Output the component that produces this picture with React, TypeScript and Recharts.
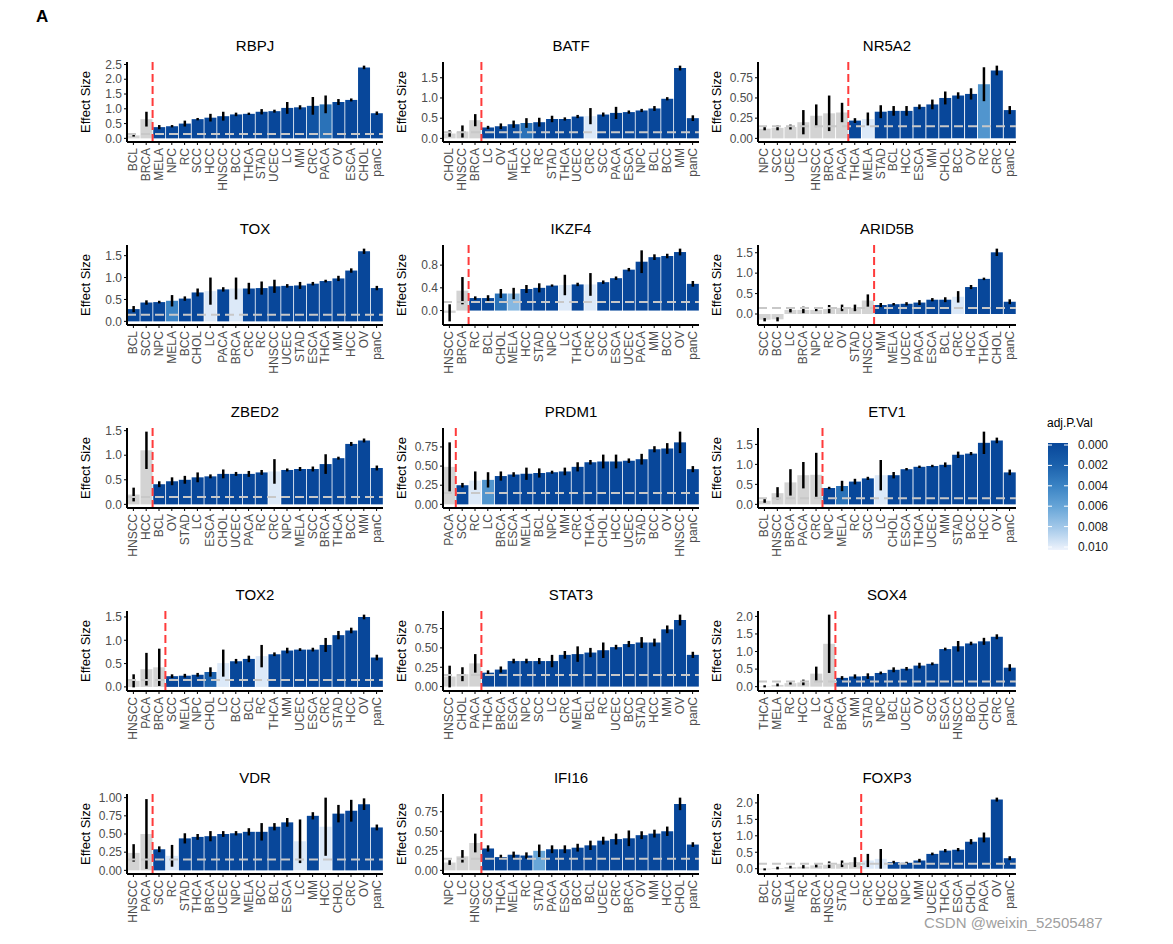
import React from 'react';
import { BarChart, Bar, XAxis, YAxis, Cell, ErrorBar, ReferenceLine } from 'recharts';

// ---------------- data ----------------
const RBPJ_CATS = ['BCL','BRCA','MELA','NPC','RC','SCC','HCC','HNSCC','BCC','THCA','STAD','UCEC','LC','MM','CRC','PACA','OV','ESCA','CHOL','panC'];
const RBPJ_VALS = [0.1,0.65,0.38,0.41,0.5,0.65,0.7,0.75,0.81,0.83,0.9,0.92,1.03,1.05,1.1,1.15,1.23,1.3,2.4,0.85];
const RBPJ_ERRS = [0.04,0.25,0.07,0.04,0.1,0.04,0.13,0.15,0.06,0.04,0.09,0.05,0.2,0.07,0.3,0.3,0.1,0.05,0.06,0.06];
const RBPJ_PADJ = [null,null,0,0,0,0,0,0,0,0,0,0,0,0,0.001,0.003,0,0,0,0];

const BATF_CATS = ['CHOL','HNSCC','BRCA','LC','OV','MELA','HCC','RC','STAD','THCA','UCEC','CRC','SCC','PACA','ESCA','NPC','BCL','BCC','MM','panC'];
const BATF_VALS = [0.12,0.17,0.45,0.27,0.3,0.35,0.38,0.4,0.48,0.48,0.54,0.55,0.59,0.63,0.65,0.69,0.74,0.98,1.74,0.5];
const BATF_ERRS = [0.08,0.15,0.15,0.04,0.07,0.09,0.12,0.11,0.08,0.04,0.04,0.2,0.05,0.15,0.04,0.04,0.06,0.04,0.06,0.07];
const BATF_PADJ = [null,null,null,0,0,0.0005,0.003,0,0,0,0,0.0095,0,0,0,0,0,0,0,0];

const NR5A2_CATS = ['NPC','SCC','UCEC','LC','HNSCC','BRCA','PACA','THCA','MELA','STAD','BCL','HCC','ESCA','MM','CHOL','BCC','OV','RC','CRC','panC'];
const NR5A2_VALS = [0.12,0.13,0.14,0.2,0.28,0.31,0.32,0.22,0.24,0.33,0.34,0.34,0.39,0.42,0.5,0.53,0.55,0.67,0.84,0.35];
const NR5A2_ERRS = [0.02,0.03,0.03,0.15,0.14,0.22,0.12,0.03,0.08,0.08,0.06,0.06,0.03,0.06,0.08,0.04,0.07,0.21,0.06,0.05];
const NR5A2_PADJ = [null,null,null,null,null,null,null,0,0.0095,0,0,0,0,0,0,0,0,0.005,0,0];

const TOX_CATS = ['BCL','SCC','NPC','MELA','BCC','CHOL','LC','PACA','BRCA','CRC','RC','HNSCC','UCEC','STAD','ESCA','THCA','MM','HCC','OV','panC'];
const TOX_VALS = [0.28,0.43,0.44,0.47,0.52,0.66,0.69,0.73,0.75,0.75,0.76,0.8,0.81,0.82,0.86,0.92,0.98,1.16,1.6,0.76];
const TOX_ERRS = [0.07,0.05,0.03,0.13,0.05,0.09,0.31,0.05,0.25,0.13,0.15,0.15,0.04,0.08,0.04,0.03,0.06,0.05,0.06,0.05];
const TOX_PADJ = [0,0,0,0.004,0,0,0.0095,0,0.0095,0,0,0,0,0,0,0,0,0,0,0];

const IKZF4_CATS = ['HNSCC','BRCA','RC','BCL','CHOL','MELA','HCC','STAD','NPC','LC','THCA','CRC','SCC','ESCA','UCEC','PACA','MM','BCC','OV','panC'];
const IKZF4_VALS = [-0.04,0.35,0.22,0.22,0.3,0.3,0.38,0.4,0.44,0.45,0.46,0.46,0.5,0.57,0.72,0.86,0.94,0.96,1.03,0.47];
const IKZF4_ERRS = [0.15,0.24,0.03,0.05,0.08,0.1,0.07,0.08,0.02,0.18,0.03,0.2,0.03,0.03,0.03,0.2,0.05,0.04,0.06,0.05];
const IKZF4_PADJ = [null,null,0,0,0.003,0.007,0,0,0,0.0095,0,0.0095,0,0,0,0,0,0,0,0];

const ARID5B_CATS = ['SCC','BCC','LC','BRCA','NPC','RC','OV','STAD','HNSCC','MM','MELA','UCEC','PACA','ESCA','BCL','CRC','HCC','THCA','CHOL','panC'];
const ARID5B_VALS = [-0.14,-0.13,0.1,0.1,0.1,0.12,0.15,0.15,0.33,0.22,0.24,0.25,0.28,0.35,0.35,0.42,0.66,0.86,1.51,0.3];
const ARID5B_ERRS = [0.04,0.05,0.06,0.08,0.03,0.1,0.08,0.08,0.15,0.05,0.03,0.04,0.06,0.04,0.06,0.14,0.05,0.03,0.09,0.06];
const ARID5B_PADJ = [null,null,null,null,null,null,null,null,null,0,0,0,0,0,0,0.0095,0,0,0,0];

const ZBED2_CATS = ['HNSCC','HCC','BCL','OV','STAD','LC','ESCA','CHOL','UCEC','PACA','RC','CRC','NPC','MELA','SCC','BRCA','THCA','BCC','MM','panC'];
const ZBED2_VALS = [0.2,1.1,0.41,0.47,0.5,0.55,0.57,0.62,0.62,0.62,0.65,0.67,0.7,0.72,0.72,0.82,0.94,1.23,1.3,0.74];
const ZBED2_ERRS = [0.14,0.38,0.06,0.08,0.08,0.1,0.04,0.09,0.04,0.06,0.05,0.25,0.03,0.04,0.05,0.2,0.03,0.04,0.04,0.05];
const ZBED2_PADJ = [null,null,0,0,0,0,0,0,0,0,0,0.0095,0,0,0,0,0,0,0,0];

const PRDM1_CATS = ['PACA','SCC','RC','LC','BRCA','ESCA','MELA','BCL','NPC','MM','CRC','THCA','CHOL','HCC','UCEC','STAD','BCC','OV','HNSCC','panC'];
const PRDM1_VALS = [0.49,0.25,0.31,0.32,0.37,0.39,0.4,0.41,0.42,0.43,0.49,0.55,0.56,0.56,0.57,0.59,0.72,0.73,0.81,0.46];
const PRDM1_ERRS = [0.32,0.03,0.12,0.1,0.06,0.03,0.08,0.06,0.02,0.05,0.06,0.03,0.09,0.09,0.03,0.07,0.04,0.07,0.14,0.04];
const PRDM1_PADJ = [null,0,0.0095,0.005,0,0,0,0,0,0,0,0,0,0,0,0,0,0,0,0];

const ETV1_CATS = ['BCL','HNSCC','BRCA','PACA','CRC','NPC','MELA','RC','SCC','LC','CHOL','ESCA','THCA','UCEC','MM','STAD','BCC','HCC','OV','panC'];
const ETV1_VALS = [0.09,0.28,0.55,0.73,0.74,0.41,0.46,0.57,0.65,0.73,0.73,0.88,0.94,0.96,0.99,1.24,1.27,1.54,1.6,0.8];
const ETV1_ERRS = [0.05,0.15,0.33,0.33,0.55,0.03,0.13,0.07,0.04,0.38,0.08,0.03,0.03,0.03,0.06,0.08,0.04,0.28,0.07,0.07];
const ETV1_PADJ = [null,null,null,null,null,0,0.003,0,0,0.0095,0,0,0,0,0,0,0,0,0,0];

const TOX2_CATS = ['HNSCC','PACA','BRCA','SCC','MELA','NPC','CHOL','LC','BCC','BCL','RC','THCA','MM','UCEC','ESCA','CRC','STAD','HCC','OV','panC'];
const TOX2_VALS = [0.13,0.38,0.42,0.23,0.24,0.26,0.32,0.51,0.55,0.6,0.66,0.7,0.78,0.8,0.8,0.9,1.11,1.21,1.5,0.63];
const TOX2_ERRS = [0.14,0.35,0.4,0.04,0.04,0.04,0.1,0.29,0.05,0.07,0.24,0.04,0.06,0.03,0.04,0.15,0.09,0.06,0.05,0.06];
const TOX2_PADJ = [null,null,null,0,0,0,0.002,0.0095,0,0,0.0095,0,0,0,0,0,0,0,0,0];

const STAT3_CATS = ['HNSCC','CHOL','PACA','THCA','BRCA','ESCA','NPC','SCC','LC','CRC','MELA','BCL','RC','UCEC','BCC','STAD','HCC','MM','OV','panC'];
const STAT3_VALS = [0.13,0.16,0.3,0.18,0.22,0.33,0.33,0.33,0.33,0.41,0.42,0.44,0.47,0.51,0.55,0.57,0.57,0.74,0.86,0.41];
const STAT3_ERRS = [0.14,0.09,0.12,0.03,0.04,0.03,0.03,0.04,0.08,0.05,0.1,0.06,0.1,0.03,0.04,0.07,0.05,0.05,0.07,0.04];
const STAT3_PADJ = [null,null,null,0,0,0,0,0,0,0,0,0,0,0,0,0,0,0,0,0];

const SOX4_CATS = ['THCA','MELA','RC','HCC','LC','PACA','BRCA','MM','STAD','NPC','BCL','UCEC','OV','SCC','ESCA','HNSCC','BCC','CHOL','CRC','panC'];
const SOX4_VALS = [0.01,0.05,0.1,0.12,0.37,1.22,0.25,0.29,0.3,0.39,0.48,0.51,0.6,0.65,1.07,1.15,1.23,1.29,1.42,0.54];
const SOX4_ERRS = [0.03,0.04,0.04,0.08,0.2,0.83,0.05,0.06,0.08,0.04,0.07,0.05,0.08,0.04,0.04,0.15,0.05,0.1,0.07,0.1];
const SOX4_PADJ = [null,null,null,null,null,null,0,0,0,0,0,0,0,0,0,0,0,0,0,0];

const VDR_CATS = ['HNSCC','PACA','SCC','RC','STAD','THCA','BRCA','UCEC','NPC','MELA','BCC','BCL','ESCA','LC','MM','HCC','CHOL','CRC','OV','panC'];
const VDR_VALS = [0.24,0.5,0.29,0.2,0.44,0.46,0.47,0.5,0.51,0.53,0.53,0.6,0.66,0.4,0.75,0.6,0.78,0.82,0.91,0.59];
const VDR_ERRS = [0.12,0.48,0.04,0.15,0.07,0.04,0.07,0.04,0.03,0.05,0.12,0.05,0.06,0.3,0.05,0.4,0.12,0.15,0.08,0.04];
const VDR_PADJ = [null,null,0,0.0095,0,0,0,0,0,0,0,0,0,0.0095,0,0.0095,0,0,0,0];

const IFI16_CATS = ['NPC','LC','HNSCC','SCC','THCA','MELA','RC','STAD','PACA','ESCA','BCC','BCL','UCEC','CRC','BRCA','OV','MM','HCC','CHOL','panC'];
const IFI16_VALS = [0.1,0.18,0.35,0.28,0.17,0.2,0.19,0.25,0.27,0.27,0.29,0.32,0.38,0.4,0.41,0.45,0.47,0.5,0.85,0.33];
const IFI16_ERRS = [0.03,0.08,0.12,0.04,0.03,0.04,0.04,0.08,0.05,0.05,0.05,0.06,0.05,0.07,0.1,0.05,0.05,0.06,0.08,0.03];
const IFI16_PADJ = [null,null,null,0,0,0,0,0.006,0,0,0,0,0,0,0,0,0,0,0,0];

const FOXP3_CATS = ['BCL','SCC','MELA','RC','BRCA','HNSCC','STAD','LC','CRC','HCC','BCC','NPC','MM','UCEC','THCA','ESCA','CHOL','PACA','OV','panC'];
const FOXP3_VALS = [-0.02,0.02,0.05,0.06,0.1,0.12,0.15,0.2,0.25,0.3,0.2,0.18,0.25,0.45,0.55,0.58,0.82,0.95,2.1,0.32];
const FOXP3_ERRS = [0.03,0.04,0.04,0.05,0.06,0.1,0.1,0.15,0.2,0.3,0.04,0.03,0.05,0.04,0.05,0.05,0.08,0.15,0.06,0.06];
const FOXP3_PADJ = [null,null,null,null,null,null,null,null,0.0095,0.0095,0,0,0,0,0,0,0,0,0,0];

const TICKS_05 = [0, 0.5, 1, 1.5];
const TICKS_025 = [0, 0.25, 0.5, 0.75];
const LEGEND_TICKS = [0, 0.002, 0.004, 0.006, 0.008, 0.01];

type PanelDef = { title: string; cats: string[]; vals: number[]; errs: number[]; padj: (number | null)[]; ticks: number[]; digits: number };

const PANELS: PanelDef[] = [
  { title: 'RBPJ', cats: RBPJ_CATS, vals: RBPJ_VALS, errs: RBPJ_ERRS, padj: RBPJ_PADJ, ticks: [0, 0.5, 1, 1.5, 2, 2.5], digits: 1 },
  { title: 'BATF', cats: BATF_CATS, vals: BATF_VALS, errs: BATF_ERRS, padj: BATF_PADJ, ticks: TICKS_05, digits: 1 },
  { title: 'NR5A2', cats: NR5A2_CATS, vals: NR5A2_VALS, errs: NR5A2_ERRS, padj: NR5A2_PADJ, ticks: TICKS_025, digits: 2 },
  { title: 'TOX', cats: TOX_CATS, vals: TOX_VALS, errs: TOX_ERRS, padj: TOX_PADJ, ticks: TICKS_05, digits: 1 },
  { title: 'IKZF4', cats: IKZF4_CATS, vals: IKZF4_VALS, errs: IKZF4_ERRS, padj: IKZF4_PADJ, ticks: [0, 0.4, 0.8], digits: 1 },
  { title: 'ARID5B', cats: ARID5B_CATS, vals: ARID5B_VALS, errs: ARID5B_ERRS, padj: ARID5B_PADJ, ticks: TICKS_05, digits: 1 },
  { title: 'ZBED2', cats: ZBED2_CATS, vals: ZBED2_VALS, errs: ZBED2_ERRS, padj: ZBED2_PADJ, ticks: TICKS_05, digits: 1 },
  { title: 'PRDM1', cats: PRDM1_CATS, vals: PRDM1_VALS, errs: PRDM1_ERRS, padj: PRDM1_PADJ, ticks: TICKS_025, digits: 2 },
  { title: 'ETV1', cats: ETV1_CATS, vals: ETV1_VALS, errs: ETV1_ERRS, padj: ETV1_PADJ, ticks: TICKS_05, digits: 1 },
  { title: 'TOX2', cats: TOX2_CATS, vals: TOX2_VALS, errs: TOX2_ERRS, padj: TOX2_PADJ, ticks: TICKS_05, digits: 1 },
  { title: 'STAT3', cats: STAT3_CATS, vals: STAT3_VALS, errs: STAT3_ERRS, padj: STAT3_PADJ, ticks: TICKS_025, digits: 2 },
  { title: 'SOX4', cats: SOX4_CATS, vals: SOX4_VALS, errs: SOX4_ERRS, padj: SOX4_PADJ, ticks: [0, 0.5, 1, 1.5, 2], digits: 1 },
  { title: 'VDR', cats: VDR_CATS, vals: VDR_VALS, errs: VDR_ERRS, padj: VDR_PADJ, ticks: [0, 0.25, 0.5, 0.75, 1], digits: 2 },
  { title: 'IFI16', cats: IFI16_CATS, vals: IFI16_VALS, errs: IFI16_ERRS, padj: IFI16_PADJ, ticks: TICKS_025, digits: 2 },
  { title: 'FOXP3', cats: FOXP3_CATS, vals: FOXP3_VALS, errs: FOXP3_ERRS, padj: FOXP3_PADJ, ticks: [0, 0.5, 1, 1.5, 2], digits: 1 },
];

// ---------------- styling ----------------
const FONT = '"Liberation Sans", Arial, Helvetica, sans-serif';
const COL_LEFT = [127, 443, 758];
const COL_W = [256, 256, 258];
const ROW_TOP = 62;
const ROW_PITCH = 183;
const PLOT_H = 80;
const YW = 50;
const MT = 6;
const XH = 62;
const GREY = '#d3d3d3';

const STOPS: [number, number[]][] = [
  [0, [8, 71, 154]],
  [0.002, [26, 96, 172]],
  [0.004, [58, 131, 196]],
  [0.006, [104, 166, 216]],
  [0.008, [166, 202, 234]],
  [0.01, [238, 243, 252]],
];

function colorFor(p: number | null): string {
  if (p === null) return GREY;
  const v = Math.max(0, Math.min(0.01, p));
  for (let i = 0; i < STOPS.length - 1; i++) {
    const [a, ca] = STOPS[i];
    const [b, cb] = STOPS[i + 1];
    if (v <= b) {
      const t = (v - a) / (b - a);
      const c = ca.map((x, k) => Math.round(x + (cb[k] - x) * t));
      return `rgb(${c[0]},${c[1]},${c[2]})`;
    }
  }
  return 'rgb(238,243,252)';
}

const XTick = (props: any) => {
  const { x, y, payload } = props;
  const yy = y + 1;
  return (
    <text x={x} y={yy} transform={`rotate(-90 ${x} ${yy})`} textAnchor="end" dominantBaseline="central" fontSize={12} fill="#4d4d4d">
      {payload.value}
    </text>
  );
};

function Panel({ p, idx }: { p: PanelDef; idx: number }) {
  const c = idx % 3;
  const r = Math.floor(idx / 3);
  const plotLeft = COL_LEFT[c];
  const w = COL_W[c];
  const plotTop = ROW_TOP + r * ROW_PITCH;
  const data = p.cats.map((cat, i) => ({ cat, val: p.vals[i], err: p.errs[i], padj: p.padj[i] }));
  const lo = Math.min(0, ...data.map((d) => d.val - d.err));
  const hi = Math.max(0.15, ...data.map((d) => d.val + d.err));
  const pad = (hi - lo) * 0.05;
  const domain = [lo - pad, hi + pad];
  const firstSig = p.padj.findIndex((v) => v !== null);
  const chartW = YW + w + 4;
  return (
    <div style={{ position: 'absolute', left: plotLeft - YW, top: plotTop - MT - 20, width: chartW }}>
      <div style={{ height: 20, lineHeight: '20px', fontSize: 15, color: '#000', textAlign: 'center', paddingLeft: YW, paddingRight: 4 }}>{p.title}</div>
      <BarChart width={chartW} height={MT + PLOT_H + XH} data={data} margin={{ top: MT, right: 4, left: 0, bottom: 0 }} barCategoryGap="5%">
        <XAxis dataKey="cat" type="category" interval={0} height={XH} tick={<XTick />} axisLine={{ stroke: '#000', strokeWidth: 2 }} tickLine={{ stroke: '#000' }} tickSize={3} />
        <YAxis
          type="number"
          domain={domain}
          ticks={p.ticks}
          interval={0}
          allowDataOverflow
          width={YW}
          tickFormatter={(v: number) => v.toFixed(p.digits)}
          tick={{ fontSize: 12, fill: '#4d4d4d' }}
          axisLine={{ stroke: '#000', strokeWidth: 2 }}
          tickLine={{ stroke: '#000' }}
          tickSize={3}
          label={{ value: 'Effect Size', angle: -90, position: 'insideLeft', offset: 8, style: { textAnchor: 'middle', fontSize: 13, fill: '#000' } }}
        />
        <Bar dataKey="val" isAnimationActive={false}>
          {data.map((d, i) => (
            <Cell key={i} fill={colorFor(d.padj)} />
          ))}
          <ErrorBar dataKey="err" width={0} strokeWidth={2.5} stroke="#000" direction="y" />
        </Bar>
        <ReferenceLine y={0.15} stroke="#c8c8c8" strokeWidth={2} strokeDasharray="9 5" />
        <ReferenceLine x={p.cats[firstSig]} position="start" stroke="#ff3b3b" strokeWidth={2} strokeDasharray="8 4" />
      </BarChart>
    </div>
  );
}

function Legend() {
  const barTop = 33;
  const barH = 107;
  return (
    <svg width={120} height={150} style={{ position: 'absolute', left: 1040, top: 410 }}>
      <defs>
        <linearGradient id="padjGrad" x1="0" y1="0" x2="0" y2="1">
          {STOPS.map(([v], i) => (
            <stop key={i} offset={`${(v / 0.01) * 100}%`} stopColor={colorFor(v)} />
          ))}
        </linearGradient>
      </defs>
      <text x={7} y={17} fontSize={12} fill="#000" fontFamily={FONT}>adj.P.Val</text>
      <rect x={8} y={barTop} width={20} height={barH} fill="url(#padjGrad)" />
      {LEGEND_TICKS.map((v, i) => {
        const y = 35 + (v / 0.01) * 102;
        return (
          <g key={i}>
            <line x1={8} x2={12} y1={y} y2={y} stroke="#fff" strokeWidth={1} />
            <line x1={24} x2={28} y1={y} y2={y} stroke="#fff" strokeWidth={1} />
            <text x={38} y={y} dominantBaseline="central" fontSize={12} fill="#1a1a1a" fontFamily={FONT}>{v.toFixed(3)}</text>
          </g>
        );
      })}
    </svg>
  );
}

export default function App() {
  return (
    <div style={{ position: 'absolute', left: 0, top: 0, width: 1173, height: 944, background: '#fff', fontFamily: FONT, overflow: 'hidden' }}>
      <div style={{ position: 'absolute', left: 36, top: 7, fontSize: 17, fontWeight: 'bold', color: '#000' }}>A</div>
      {PANELS.map((p, i) => (
        <Panel key={p.title} p={p} idx={i} />
      ))}
      <Legend />
      <div style={{ position: 'absolute', left: 924, top: 914, fontSize: 15, color: '#a0a0a0' }}>CSDN @weixin_52505487</div>
    </div>
  );
}
